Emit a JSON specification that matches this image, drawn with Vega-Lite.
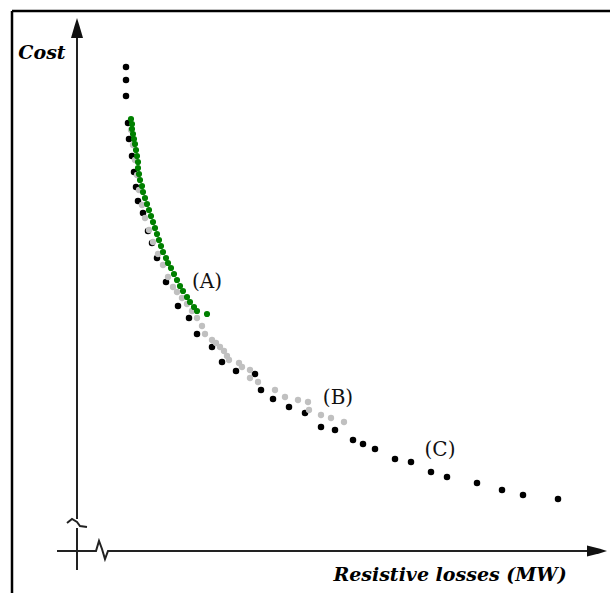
{
  "$schema": "https://vega.github.io/schema/vega-lite/v6.json",
  "width": 610,
  "height": 593,
  "autosize": "none",
  "padding": 0,
  "background": "white",
  "config": {"view": {"stroke": null}},
  "datasets": {
    "frame": [
      {"seg": "top", "i": 0, "losses": -65, "cost": 540},
      {"seg": "top", "i": 1, "losses": 540, "cost": 540},
      {"seg": "left", "i": 0, "losses": -65, "cost": 540},
      {"seg": "left", "i": 1, "losses": -65, "cost": -50}
    ],
    "axes": [
      {"seg": "v1", "i": 0, "losses": 0, "cost": 521},
      {"seg": "v1", "i": 1, "losses": 0, "cost": 32},
      {"seg": "vz", "i": 0, "losses": -10, "cost": 28},
      {"seg": "vz", "i": 1, "losses": -5, "cost": 32},
      {"seg": "vz", "i": 2, "losses": 0, "cost": 29},
      {"seg": "vz", "i": 3, "losses": 3, "cost": 25},
      {"seg": "vz", "i": 4, "losses": 10, "cost": 24},
      {"seg": "v2", "i": 0, "losses": 0, "cost": 23},
      {"seg": "v2", "i": 1, "losses": 0, "cost": -19},
      {"seg": "h", "i": 0, "losses": -20, "cost": 0},
      {"seg": "h", "i": 1, "losses": 19, "cost": 0},
      {"seg": "h", "i": 2, "losses": 22, "cost": 10},
      {"seg": "h", "i": 3, "losses": 25, "cost": 2},
      {"seg": "h", "i": 4, "losses": 28, "cost": -8},
      {"seg": "h", "i": 5, "losses": 31, "cost": 0},
      {"seg": "h", "i": 6, "losses": 515, "cost": 0}
    ],
    "arrows": [
      {"dir": "up", "losses": 0, "cost": 523},
      {"dir": "right", "losses": 520, "cost": 0}
    ],
    "points": [
      {"series": "B", "losses": 54, "cost": 421},
      {"series": "B", "losses": 56, "cost": 406},
      {"series": "B", "losses": 58, "cost": 391},
      {"series": "B", "losses": 60, "cost": 376},
      {"series": "B", "losses": 62, "cost": 361},
      {"series": "B", "losses": 65, "cost": 346},
      {"series": "B", "losses": 68, "cost": 333},
      {"series": "B", "losses": 72, "cost": 321},
      {"series": "B", "losses": 76, "cost": 309},
      {"series": "B", "losses": 81, "cost": 297},
      {"series": "B", "losses": 86, "cost": 286},
      {"series": "B", "losses": 91, "cost": 274},
      {"series": "B", "losses": 96, "cost": 264},
      {"series": "B", "losses": 100, "cost": 259},
      {"series": "B", "losses": 105, "cost": 253},
      {"series": "B", "losses": 110, "cost": 247},
      {"series": "B", "losses": 115, "cost": 240},
      {"series": "B", "losses": 120, "cost": 233},
      {"series": "B", "losses": 125, "cost": 225},
      {"series": "B", "losses": 128, "cost": 217},
      {"series": "B", "losses": 135, "cost": 211},
      {"series": "B", "losses": 139, "cost": 208},
      {"series": "B", "losses": 143, "cost": 204},
      {"series": "B", "losses": 147, "cost": 200},
      {"series": "B", "losses": 150, "cost": 195},
      {"series": "B", "losses": 152, "cost": 191},
      {"series": "B", "losses": 162, "cost": 188},
      {"series": "B", "losses": 165, "cost": 184},
      {"series": "B", "losses": 173, "cost": 181},
      {"series": "B", "losses": 173, "cost": 173},
      {"series": "B", "losses": 181, "cost": 169},
      {"series": "B", "losses": 198, "cost": 161},
      {"series": "B", "losses": 208, "cost": 154},
      {"series": "B", "losses": 221, "cost": 151},
      {"series": "B", "losses": 231, "cost": 149},
      {"series": "B", "losses": 232, "cost": 141},
      {"series": "B", "losses": 244, "cost": 136},
      {"series": "B", "losses": 254, "cost": 133},
      {"series": "B", "losses": 267, "cost": 129},
      {"series": "C", "losses": 49, "cost": 484},
      {"series": "C", "losses": 49, "cost": 471},
      {"series": "C", "losses": 49, "cost": 455},
      {"series": "C", "losses": 51, "cost": 428},
      {"series": "C", "losses": 52, "cost": 412},
      {"series": "C", "losses": 55, "cost": 395},
      {"series": "C", "losses": 57, "cost": 379},
      {"series": "C", "losses": 59, "cost": 364},
      {"series": "C", "losses": 61, "cost": 350},
      {"series": "C", "losses": 66, "cost": 338},
      {"series": "C", "losses": 71, "cost": 320},
      {"series": "C", "losses": 75, "cost": 308},
      {"series": "C", "losses": 80, "cost": 293},
      {"series": "C", "losses": 89, "cost": 269},
      {"series": "C", "losses": 101, "cost": 245},
      {"series": "C", "losses": 112, "cost": 233},
      {"series": "C", "losses": 120, "cost": 217},
      {"series": "C", "losses": 135, "cost": 204},
      {"series": "C", "losses": 145, "cost": 189},
      {"series": "C", "losses": 159, "cost": 180},
      {"series": "C", "losses": 178, "cost": 177},
      {"series": "C", "losses": 184, "cost": 161},
      {"series": "C", "losses": 196, "cost": 152},
      {"series": "C", "losses": 212, "cost": 144},
      {"series": "C", "losses": 228, "cost": 138},
      {"series": "C", "losses": 244, "cost": 124},
      {"series": "C", "losses": 258, "cost": 121},
      {"series": "C", "losses": 276, "cost": 111},
      {"series": "C", "losses": 286, "cost": 107},
      {"series": "C", "losses": 298, "cost": 102},
      {"series": "C", "losses": 318, "cost": 92},
      {"series": "C", "losses": 334, "cost": 89},
      {"series": "C", "losses": 354, "cost": 79},
      {"series": "C", "losses": 370, "cost": 74},
      {"series": "C", "losses": 400, "cost": 68},
      {"series": "C", "losses": 425, "cost": 61},
      {"series": "C", "losses": 446, "cost": 56},
      {"series": "C", "losses": 481, "cost": 52},
      {"series": "A", "losses": 54, "cost": 432},
      {"series": "A", "losses": 55, "cost": 427},
      {"series": "A", "losses": 55, "cost": 422},
      {"series": "A", "losses": 56, "cost": 417},
      {"series": "A", "losses": 57, "cost": 412},
      {"series": "A", "losses": 58, "cost": 407},
      {"series": "A", "losses": 59, "cost": 401},
      {"series": "A", "losses": 60, "cost": 395},
      {"series": "A", "losses": 61, "cost": 389},
      {"series": "A", "losses": 61, "cost": 383},
      {"series": "A", "losses": 62, "cost": 377},
      {"series": "A", "losses": 63, "cost": 371},
      {"series": "A", "losses": 65, "cost": 365},
      {"series": "A", "losses": 66, "cost": 359},
      {"series": "A", "losses": 68, "cost": 353},
      {"series": "A", "losses": 70, "cost": 347},
      {"series": "A", "losses": 72, "cost": 341},
      {"series": "A", "losses": 74, "cost": 335},
      {"series": "A", "losses": 76, "cost": 329},
      {"series": "A", "losses": 78, "cost": 323},
      {"series": "A", "losses": 80, "cost": 317},
      {"series": "A", "losses": 82, "cost": 311},
      {"series": "A", "losses": 84, "cost": 305},
      {"series": "A", "losses": 86, "cost": 299},
      {"series": "A", "losses": 89, "cost": 293},
      {"series": "A", "losses": 91, "cost": 288},
      {"series": "A", "losses": 94, "cost": 283},
      {"series": "A", "losses": 97, "cost": 277},
      {"series": "A", "losses": 100, "cost": 271},
      {"series": "A", "losses": 103, "cost": 265},
      {"series": "A", "losses": 106, "cost": 260},
      {"series": "A", "losses": 110, "cost": 254},
      {"series": "A", "losses": 113, "cost": 249},
      {"series": "A", "losses": 117, "cost": 244},
      {"series": "A", "losses": 120, "cost": 240},
      {"series": "A", "losses": 130, "cost": 237}
    ],
    "labels": [
      {"text": "(A)", "losses": 130, "cost": 269},
      {"text": "(B)", "losses": 261, "cost": 153},
      {"text": "(C)", "losses": 363, "cost": 101}
    ],
    "titles": [
      {"text": "Cost", "losses": -35, "cost": 498},
      {"text": "Resistive losses (MW)", "losses": 373, "cost": -24}
    ]
  },
  "encoding": {
    "x": {"field": "losses", "type": "quantitative", "axis": null,
          "scale": {"domain": [-77, 533], "nice": false, "zero": false}},
    "y": {"field": "cost", "type": "quantitative", "axis": null,
          "scale": {"domain": [-42, 551], "nice": false, "zero": false}}
  },
  "layer": [
    {
      "data": {"name": "frame"},
      "mark": {"type": "line", "color": "black", "strokeWidth": 2.5, "clip": true},
      "encoding": {"detail": {"field": "seg"}, "order": {"field": "i"}}
    },
    {
      "data": {"name": "axes"},
      "mark": {"type": "line", "color": "#222222", "strokeWidth": 2},
      "encoding": {"detail": {"field": "seg"}, "order": {"field": "i"}}
    },
    {
      "data": {"name": "arrows"},
      "transform": [{"filter": "datum.dir === 'up'"}],
      "mark": {"type": "point", "filled": true, "color": "#111111", "opacity": 1, "size": 400,
               "shape": "M0,-1 L0.22,-0.3 L0.6,1 L-0.6,1 L-0.22,-0.3 Z"}
    },
    {
      "data": {"name": "arrows"},
      "transform": [{"filter": "datum.dir === 'right'"}],
      "mark": {"type": "point", "filled": true, "color": "#111111", "opacity": 1, "size": 400,
               "shape": "M1,0 L0.3,-0.22 L-1,-0.55 L-1,0.55 L0.3,0.22 Z"}
    },
    {
      "data": {"name": "points"},
      "mark": {"type": "circle", "opacity": 1},
      "encoding": {
        "color": {"field": "series", "type": "nominal", "legend": null,
                  "scale": {"domain": ["A", "B", "C"], "range": ["#008000", "#c0c0c0", "#000000"]}},
        "size": {"field": "series", "type": "nominal", "legend": null,
                 "scale": {"domain": ["A", "B", "C"], "range": [38, 42, 42]}},
        "order": {"field": "series", "sort": "descending"}
      }
    },
    {
      "data": {"name": "labels"},
      "mark": {"type": "text", "font": "DejaVu Serif", "fontSize": 20, "color": "#111111",
               "align": "center", "baseline": "middle"},
      "encoding": {"text": {"field": "text"}}
    },
    {
      "data": {"name": "titles"},
      "mark": {"type": "text", "font": "DejaVu Serif", "fontSize": 19, "fontStyle": "italic",
               "fontWeight": "bold", "color": "black", "align": "center", "baseline": "middle"},
      "encoding": {"text": {"field": "text"}}
    }
  ]
}
